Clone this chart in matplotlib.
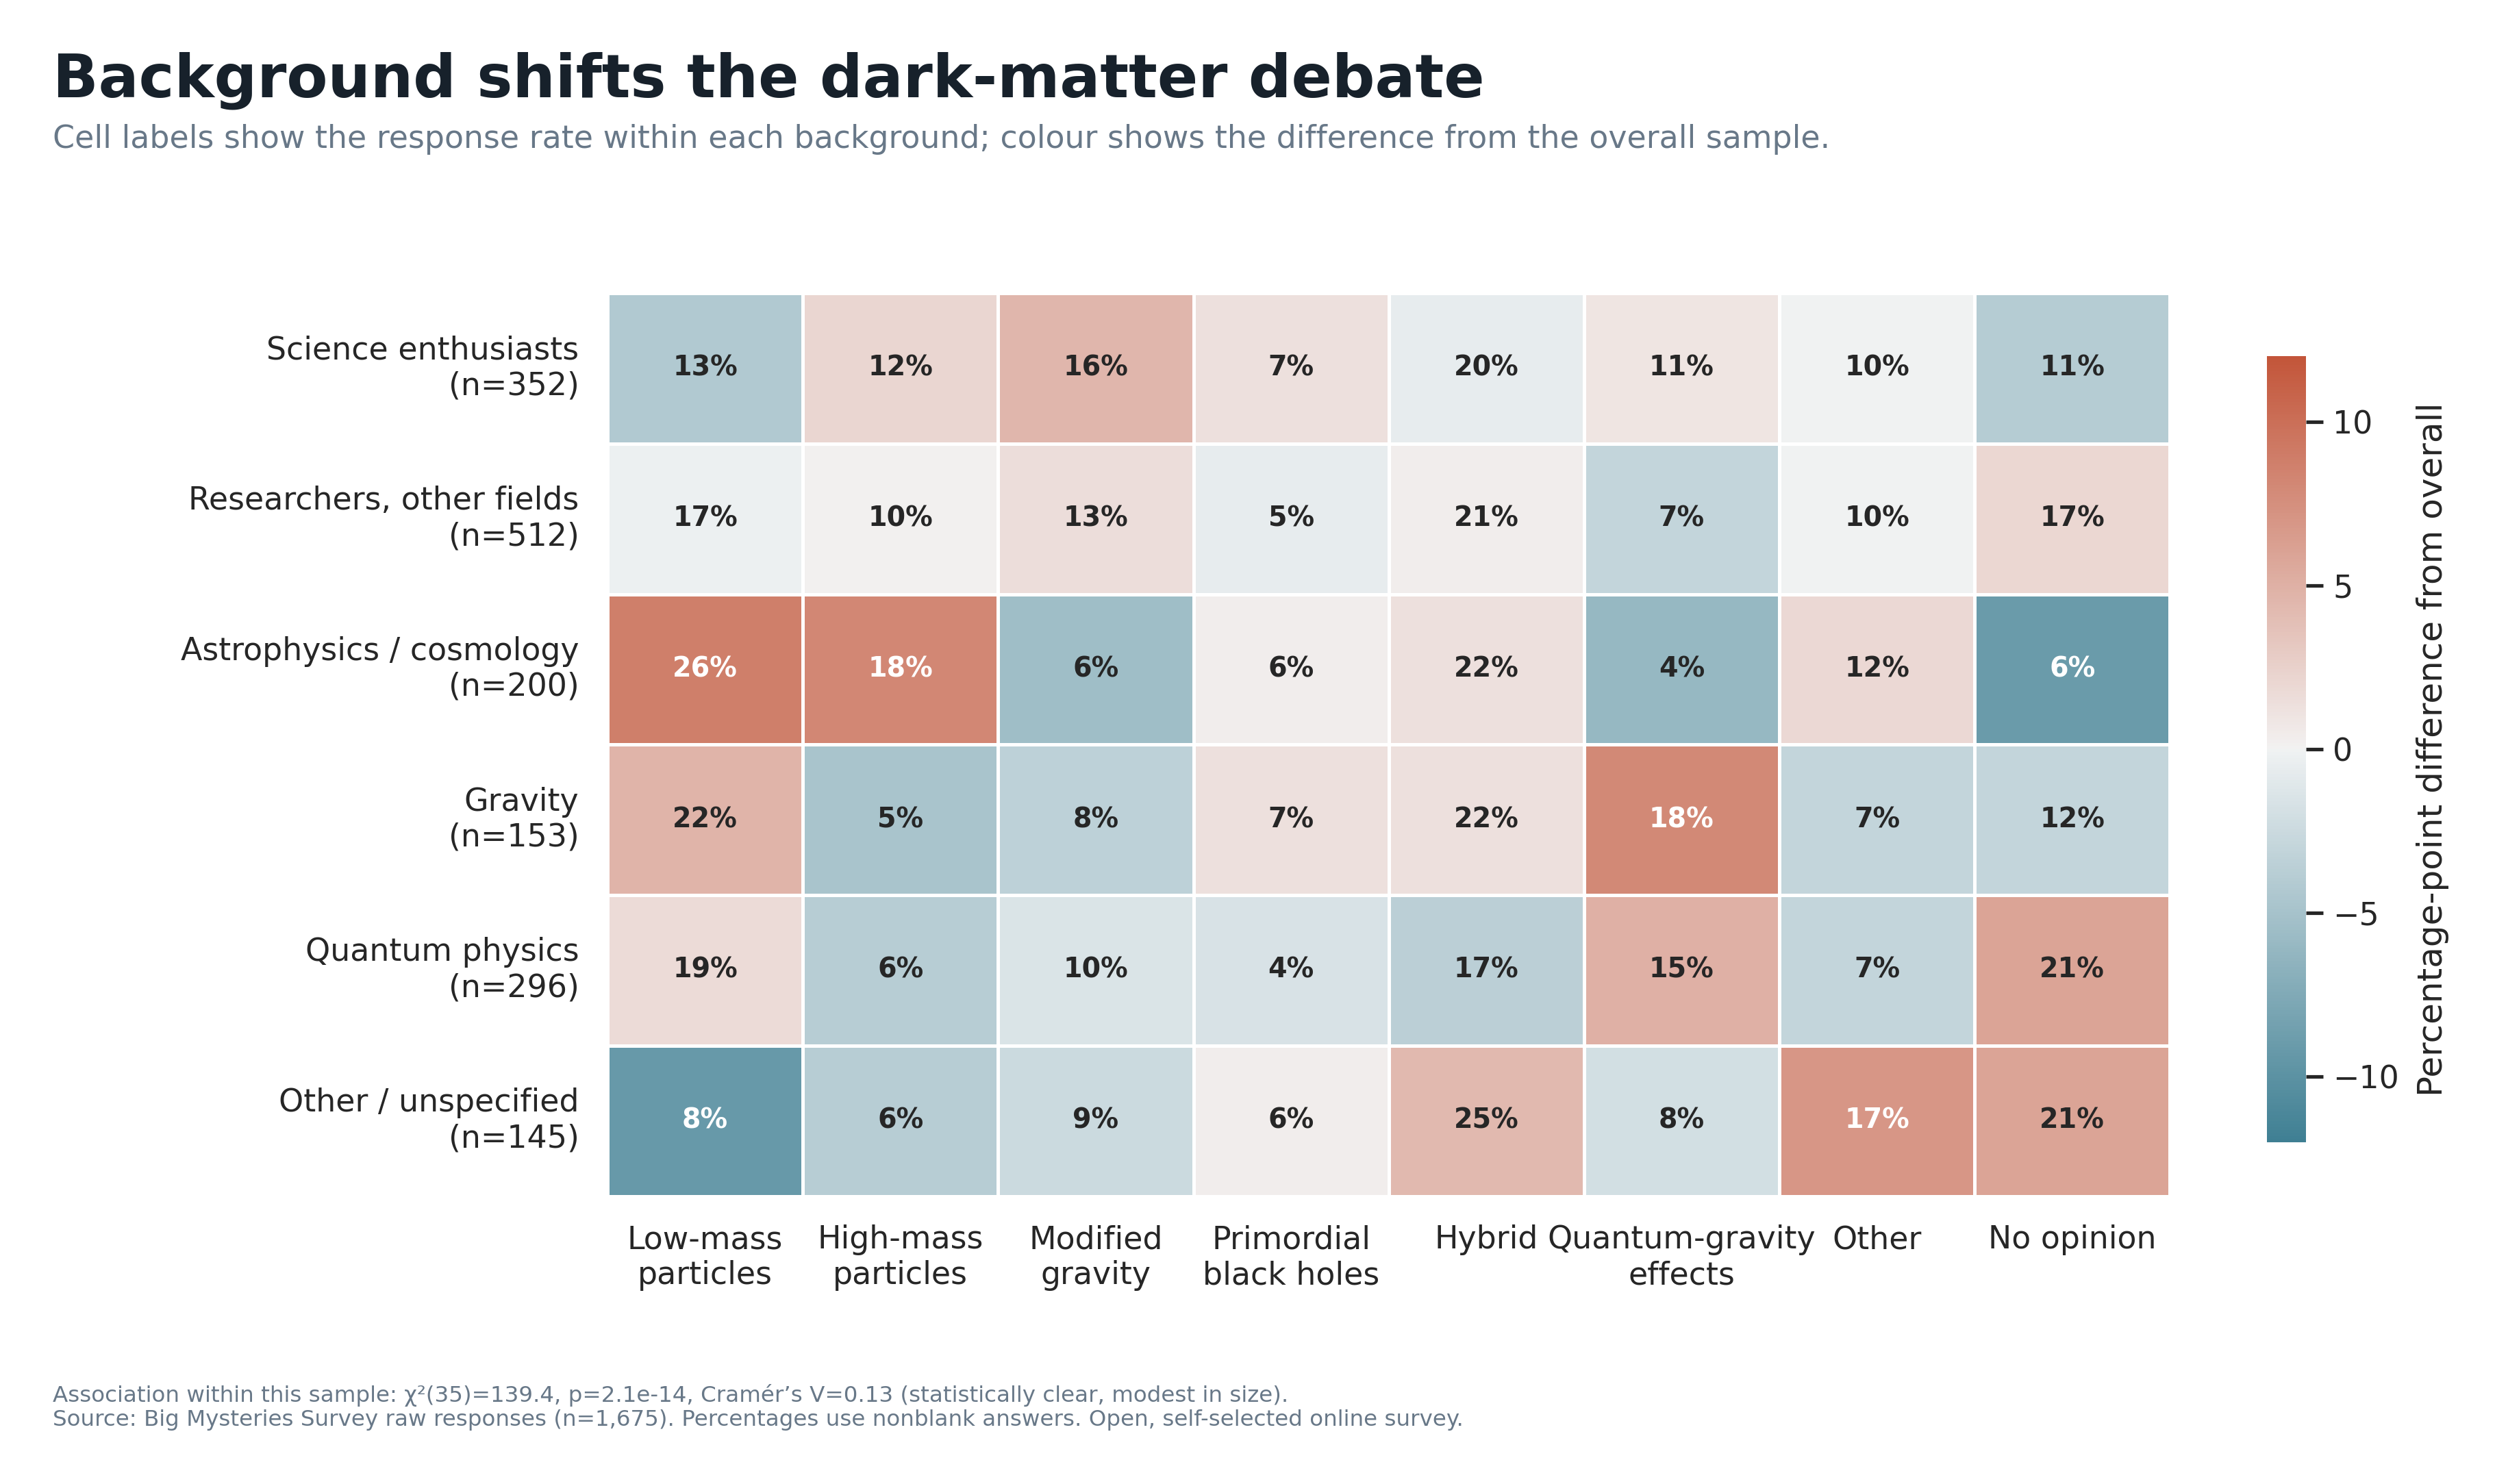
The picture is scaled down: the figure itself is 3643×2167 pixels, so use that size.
import numpy as np
import matplotlib
matplotlib.use("Agg")
import matplotlib.pyplot as plt
import seaborn as sns

# data: response rate (%) within each background
backgrounds = ["Science enthusiasts", "Researchers, other fields", "Astrophysics / cosmology",
               "Gravity", "Quantum physics", "Other / unspecified"]
group_n = [352, 512, 200, 153, 296, 145]
answers = ["Low-mass\nparticles", "High-mass\nparticles", "Modified\ngravity", "Primordial\nblack holes",
           "Hybrid", "Quantum-gravity\neffects", "Other", "No opinion"]
pct_science = [13, 12, 16, 7, 20, 11, 10, 11]
pct_researchers = [17, 10, 13, 5, 21, 7, 10, 17]
pct_astro = [26, 18, 6, 6, 22, 4, 12, 6]
pct_gravity = [22, 5, 8, 7, 22, 18, 7, 12]
pct_quantum = [19, 6, 10, 4, 17, 15, 7, 21]
pct_other = [8, 6, 9, 6, 25, 8, 17, 21]

pct = np.array([pct_science, pct_researchers, pct_astro, pct_gravity, pct_quantum, pct_other], dtype=float)
w = np.array(group_n, dtype=float)
overall = (pct * w[:, None]).sum(axis=0) / w.sum()
diff = pct - overall

DPI = 300
fig = plt.figure(figsize=(3643 / DPI, 2167 / DPI), dpi=DPI)
ax = fig.add_axes([0.2435, 0.1940, 0.6262, 0.6085])
cax = fig.add_axes([0.9086, 0.2303, 0.0156, 0.5298])

cmap = sns.diverging_palette(220, 20, as_cmap=True)
sns.heatmap(diff, ax=ax, cbar_ax=cax, cmap=cmap, vmin=-12, vmax=12, center=0,
            linewidths=1.2, linecolor="white", annot=False)

# cell labels: response rate, white text on strong colours
for i in range(pct.shape[0]):
    for j in range(pct.shape[1]):
        col = "white" if abs(diff[i, j]) > 6.5 else "#262626"
        ax.text(j + 0.5, i + 0.5, f"{pct[i, j]:.0f}%", ha="center", va="center",
                fontsize=9.5, fontweight="bold", color=col)

ylabels = [f"{b}\n(n={n})" for b, n in zip(backgrounds, group_n)]
ax.set_yticks(np.arange(len(backgrounds)) + 0.5)
ax.set_yticklabels(ylabels, rotation=0, fontsize=11, color="#262626")
ax.set_xticks(np.arange(len(answers)) + 0.5)
ax.set_xticklabels(answers, rotation=0, fontsize=11, color="#262626")
ax.tick_params(axis="both", length=0)
ax.tick_params(axis="x", pad=10)
ax.tick_params(axis="y", pad=10)
ax.set_xlabel("")
ax.set_ylabel("")

cax.tick_params(labelsize=11, length=6, width=1.25, colors="#262626")
cax.set_ylabel("Percentage-point difference from overall", fontsize=12, color="#262626", labelpad=6)
cax.set_yticks([-10, -5, 0, 5, 10])
for s in cax.spines.values():
    s.set_visible(False)

fig.text(0.0212, 0.9345, "Background shifts the dark-matter debate", fontsize=21,
         fontweight="bold", color="#17212b", va="baseline", ha="left")
fig.text(0.0212, 0.9003, "Cell labels show the response rate within each background; "
         "colour shows the difference from the overall sample.",
         fontsize=11, color="#687888", va="baseline", ha="left")
fig.text(0.0212, 0.0555, "Association within this sample: \u03c7\u00b2(35)=139.4, p=2.1e-14, "
         "Cram\u00e9r\u2019s V=0.13 (statistically clear, modest in size).",
         fontsize=7.8, color="#687888", va="baseline", ha="left")
fig.text(0.0212, 0.0390, "Source: Big Mysteries Survey raw responses (n=1,675). Percentages use "
         "nonblank answers. Open, self-selected online survey.",
         fontsize=7.8, color="#687888", va="baseline", ha="left")

fig.savefig("out.png", dpi=DPI, facecolor="white")
